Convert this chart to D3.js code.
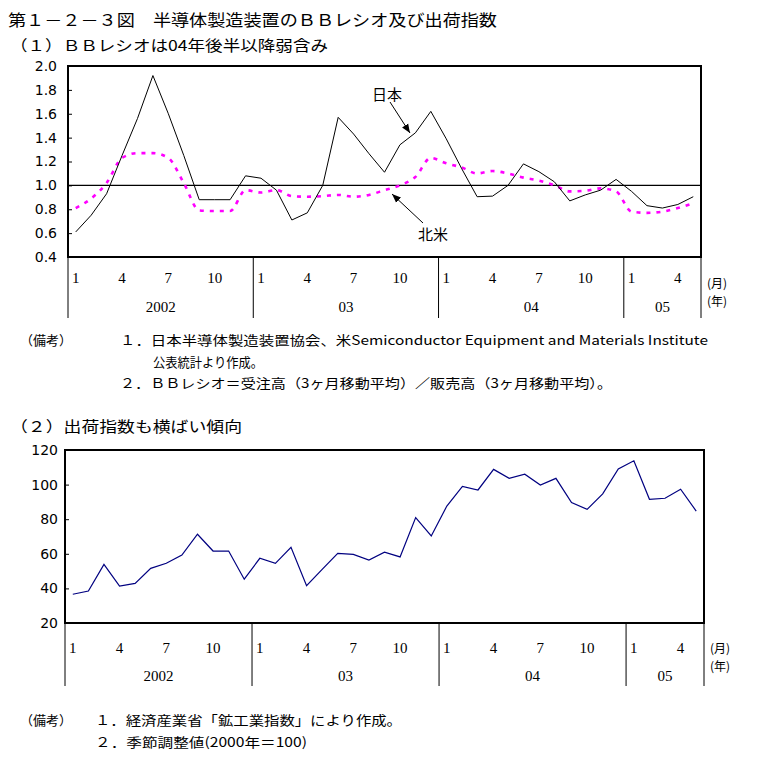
<!DOCTYPE html>
<html><head><meta charset="utf-8">
<script src="https://cdn.jsdelivr.net/npm/d3@7"></script>
<style>
body{margin:0;background:#fff;}
svg{display:block;}
text{font-family:"Noto Sans CJK JP","DejaVu Sans",sans-serif;fill:#000;}
.num{font-family:"Liberation Serif","DejaVu Serif",serif;}
</style></head>
<body>
<script>
// ---------- DATA ----------
const months = [
 "2002-01","2002-02","2002-03","2002-04","2002-05","2002-06","2002-07","2002-08","2002-09","2002-10","2002-11","2002-12",
 "2003-01","2003-02","2003-03","2003-04","2003-05","2003-06","2003-07","2003-08","2003-09","2003-10","2003-11","2003-12",
 "2004-01","2004-02","2004-03","2004-04","2004-05","2004-06","2004-07","2004-08","2004-09","2004-10","2004-11","2004-12",
 "2005-01","2005-02","2005-03","2005-04","2005-05"];
const monthTickLabels = ["1","4","7","10"];
const yearLabels = ["2002","03","04","05"];
const yearStarts = ["2002-01","2003-01","2004-01","2005-01"];

// BB ratio (3-month moving average)
const japanBB = [0.61,0.75,0.93,1.25,1.56,1.92,1.60,1.25,0.88,0.88,0.88,1.08,
 1.06,0.96,0.71,0.77,1.00,1.57,1.43,1.265,1.11,1.34,1.44,1.62,
 1.39,1.14,0.905,0.91,1.00,1.18,1.115,1.03,0.87,0.92,0.96,1.05,
 0.95,0.83,0.81,0.84,0.905];
const northAmericaBB = [0.81,0.89,1.02,1.23,1.27,1.27,1.23,1.02,0.79,0.785,0.785,0.96,
 0.94,0.96,0.91,0.905,0.91,0.92,0.905,0.92,0.96,1.00,1.07,1.23,
 1.185,1.15,1.10,1.12,1.10,1.065,1.04,1.00,0.95,0.955,0.975,0.95,
 0.78,0.77,0.78,0.81,0.85];
const bbTicks = [0.4,0.6,0.8,1.0,1.2,1.4,1.6,1.8,2.0];

// Shipment index (2000 = 100, seasonally adjusted)
const shipmentIndex = [36.6,38.5,53.9,41.4,42.9,51.6,54.5,59.3,71.3,61.6,61.6,45.3,
 57.4,54.5,63.8,41.6,51.0,60.3,59.7,56.4,60.9,58.2,80.9,70.3,
 87.6,99.0,96.9,108.8,103.6,106.0,99.8,103.6,89.6,85.7,94.6,109.0,
 113.8,91.5,92.1,97.3,84.7];
const shipTicks = [20,40,60,80,100,120];

// ---------- DRAW ----------
const W=784,H=780;
const svg=d3.select("body").append("svg").attr("width",W).attr("height",H);

function txt(x,y,s,opt={}){
  const t=svg.append("text").attr("x",x).attr("y",y).attr("dominant-baseline","central")
    .style("font-size",(opt.size||14)+"px").text(s);
  if(opt.len){t.attr("textLength",opt.len).attr("lengthAdjust","spacingAndGlyphs");}
  if(opt.anchor)t.attr("text-anchor",opt.anchor);
  if(opt.cls)t.attr("class",opt.cls);
  return t;
}

svg.append("defs").append("marker").attr("id","arr").attr("viewBox","0 0 10 10")
  .attr("refX",10).attr("refY",5).attr("markerWidth",9).attr("markerHeight",9)
  .attr("markerUnits","userSpaceOnUse").attr("orient","auto")
  .append("path").attr("d","M0,1 L10,5 L0,9 Z").attr("fill","#000");

function panel(cfg){
  const g=svg.append("g");
  const x=d3.scaleBand().domain(months).range([cfg.x0,cfg.x1]).paddingInner(0).paddingOuter(0);
  const y=d3.scaleLinear().domain(cfg.yDomain).range([cfg.yBot,cfg.yTop]);
  const cx=d=>x(d)+x.bandwidth()/2;

  // y axis (inward ticks)
  const ya=g.append("g").attr("transform",`translate(${cfg.x0},0)`)
    .call(d3.axisLeft(y).tickValues(cfg.ticks).tickSize(-4).tickPadding(cfg.pad).tickFormat(cfg.fmt));
  ya.select(".domain").remove();
  ya.selectAll("line").attr("stroke","#000");
  ya.selectAll("text").style("font-size","14px").style("font-family","'DejaVu Sans',sans-serif").attr("fill","#000");

  // x axis month labels
  const xa=g.append("g").attr("transform",`translate(0,${cfg.monthY})`)
    .call(d3.axisBottom(x).tickValues(months.filter(m=>monthTickLabels.includes(String(+m.slice(5)))))
      .tickSize(0).tickPadding(0).tickFormat(m=>String(+m.slice(5))));
  xa.select(".domain").remove();
  xa.selectAll("text").attr("dy",null).attr("y",0).attr("dominant-baseline","central")
    .attr("class","num").style("font-size","15px").attr("fill","#000");

  // year separators & labels
  const sepXs=yearStarts.map(s=>x(s)).concat([cfg.x1]);
  sepXs.forEach(sx=>g.append("line").attr("x1",sx).attr("x2",sx).attr("y1",cfg.yBot).attr("y2",cfg.sepBot)
    .attr("stroke","#000").attr("stroke-width",1));
  yearLabels.forEach((lab,i)=>{
    const mid=(sepXs[i]+sepXs[i+1])/2;
    txt(mid,cfg.yearY,lab,{anchor:"middle",size:15,cls:"num"});
  });
  txt(cfg.x1+6,cfg.unitY1,"(月)",{size:12});
  txt(cfg.x1+6,cfg.unitY2,"(年)",{size:12});

  return {g,x,y,cx};
}

// Title
txt(8,19,"第１－２－３図　半導体製造装置のＢＢレシオ及び出荷指数",{size:16,len:489});
txt(10,44,"（１）ＢＢレシオは04年後半以降弱含み",{size:15,len:318});

// Panel 1
const p1=panel({x0:68,x1:701,yTop:66,yBot:257,yDomain:[0.4,2.0],ticks:bbTicks,pad:11,
  fmt:d3.format(".1f"),monthY:278,yearY:307,sepBot:318,unitY1:282,unitY2:300});
// reference line 1.0
p1.g.append("line").attr("x1",68).attr("x2",701).attr("y1",p1.y(1.0)).attr("y2",p1.y(1.0))
  .attr("stroke","#000").attr("stroke-width",1.2);
p1.g.append("path").datum(northAmericaBB)
  .attr("d",d3.line().x((d,i)=>p1.cx(months[i])).y(d=>p1.y(d)).curve(d3.curveMonotoneX))
  .attr("fill","none").attr("stroke","#ff00ff").attr("stroke-width",2.6).attr("stroke-dasharray","4,6");
p1.g.append("path").datum(japanBB)
  .attr("d",d3.line().x((d,i)=>p1.cx(months[i])).y(d=>p1.y(d)))
  .attr("fill","none").attr("stroke","#000").attr("stroke-width",1);
p1.g.append("rect").attr("x",68).attr("y",66).attr("width",633).attr("height",191)
  .attr("fill","none").attr("stroke","#000").attr("stroke-width",2);
// annotations
txt(387,93,"日本",{size:15,anchor:"middle"});
svg.append("line").attr("x1",390).attr("y1",102).attr("x2",410).attr("y2",133)
  .attr("stroke","#000").attr("stroke-width",1).attr("marker-end","url(#arr)");
txt(433,233,"北米",{size:15,anchor:"middle"});
svg.append("line").attr("x1",423).attr("y1",223).attr("x2",392).attr("y2",194)
  .attr("stroke","#000").attr("stroke-width",1).attr("marker-end","url(#arr)");

// Notes 1
txt(20,339,"（備考）",{size:13,len:52});
txt(120,339,"１．日本半導体製造装置協会、米Semiconductor Equipment and Materials Institute",{size:13,len:588});
txt(153,361,"公表統計より作成。",{size:13,len:110});
txt(120,382,"２．ＢＢレシオ＝受注高（3ヶ月移動平均）／販売高（3ヶ月移動平均）。",{size:13,len:492});

// Panel 2
txt(10,425,"（２）出荷指数も横ばい傾向",{size:15,len:232});
const p2=panel({x0:65,x1:704,yTop:450,yBot:623,yDomain:[20,120],ticks:shipTicks,pad:7,
  fmt:d3.format("d"),monthY:648,yearY:676,sepBot:686,unitY1:647,unitY2:665});
p2.g.append("path").datum(shipmentIndex)
  .attr("d",d3.line().x((d,i)=>p2.cx(months[i])).y(d=>p2.y(d)))
  .attr("fill","none").attr("stroke","#000080").attr("stroke-width",1.2);
p2.g.append("rect").attr("x",65).attr("y",450).attr("width",639).attr("height",173)
  .attr("fill","none").attr("stroke","#000").attr("stroke-width",2);

// Notes 2
txt(20,719,"（備考）",{size:13,len:52});
txt(95,719,"１．経済産業省「鉱工業指数」により作成。",{size:13,len:307});
txt(95,741,"２．季節調整値(2000年＝100)",{size:13,len:212});
</script>
</body></html>
